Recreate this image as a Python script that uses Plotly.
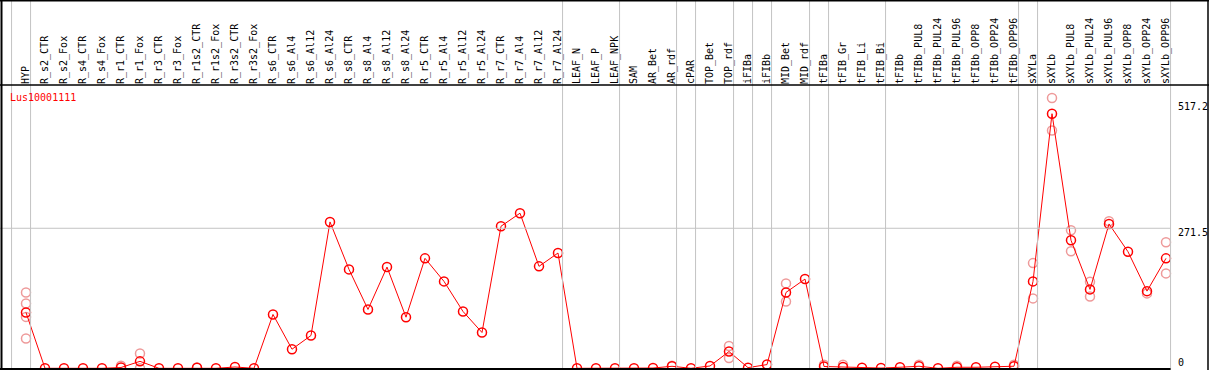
import plotly.graph_objects as go

categories = [
    "HYP", "R_s2_CTR", "R_s2_Fox", "R_s4_CTR", "R_s4_Fox", "R_r1_CTR", "R_r1_Fox",
    "R_r3_CTR", "R_r3_Fox", "R_r1s2_CTR", "R_r1s2_Fox", "R_r3s2_CTR", "R_r3s2_Fox",
    "R_s6_CTR", "R_s6_Al4", "R_s6_Al12", "R_s6_Al24", "R_s8_CTR", "R_s8_Al4",
    "R_s8_Al12", "R_s8_Al24", "R_r5_CTR", "R_r5_Al4", "R_r5_Al12", "R_r5_Al24",
    "R_r7_CTR", "R_r7_Al4", "R_r7_Al12", "R_r7_Al24", "LEAF_N", "LEAF_P", "LEAF_NPK",
    "SAM", "AR_Bet", "AR_rdf", "cPAR", "TOP_Bet", "TOP_rdf", "iFIBa", "iFIBb",
    "MID_Bet", "MID_rdf", "tFIBa", "tFIB_Gr", "tFIB_Li", "tFIB_Bi", "tFIBb",
    "tFIBb_PUL8", "tFIBb_PUL24", "tFIBb_PUL96", "tFIBb_OPP8", "tFIBb_OPP24",
    "tFIBb_OPP96", "sXYLa", "sXYLb", "sXYLb_PUL8", "sXYLb_PUL24", "sXYLb_PUL96",
    "sXYLb_OPP8", "sXYLb_OPP24", "sXYLb_OPP96",
]

mean_values = [
    108.3, 0, 0, 0, 0, 1.5, 13.5,
    0, 0, 1, 0, 2.5, 0,
    104.4, 37, 63.6, 283.8, 191.8, 114.1,
    196.3, 99.1, 213.2, 168.5, 110.2, 69.4,
    275.4, 300.7, 197.7, 223.5, 0, 0, 0,
    0, 0.5, 3.9, 0, 4.5, 32.5, 1.3, 7.2,
    147.1, 173, 3.5, 2.5, 1, 0.5, 2,
    4, 0, 2, 2, 3,
    4, 168.5, 493.6, 248.2, 153, 279.9,
    226, 149.6, 213.2,
]

rep_categories = [
    "HYP", "HYP", "HYP", "HYP", "R_r1_CTR", "R_r1_Fox", "R_r1_Fox", "R_r1s2_CTR",
    "AR_rdf", "TOP_rdf", "TOP_rdf", "MID_Bet", "MID_Bet", "tFIBa", "tFIB_Gr",
    "tFIBb_PUL8", "tFIBb_PUL96", "tFIBb_OPP96", "sXYLa", "sXYLa", "sXYLb", "sXYLb",
    "sXYLb_PUL8", "sXYLb_PUL8", "sXYLb_PUL24", "sXYLb_PUL24", "sXYLb_PUL96",
    "sXYLb_OPP24", "sXYLb_OPP96", "sXYLb_OPP96",
]
rep_values = [
    147.1, 125.7, 99.7, 57.7, 5, 28.6, 0, 1.5,
    5, 43.3, 20, 164.6, 129.6, 7, 7,
    7, 5, 7, 204, 135.5, 524.2, 461.2,
    267.6, 226.8, 167.7, 139.3, 285.1,
    145.2, 244.3, 184,
]

# groups end after these category indices (-1 = before first)
group_ends = [-1, 0, 28, 31, 34, 35, 37, 38, 39, 41, 42, 45, 52, 53, 60]
gridline_value = 271.5
axis_labels = [517.2, 271.5, 0]
gene = "Lus10001111"

W, H = 1209, 370
TOP = 85
FONT = "DejaVu Sans Mono"
RED = "#ff0000"
PINK = "#ee9a9a"
GRAY = "#c4c4c4"
X_RANGE = [-1.368, 62.263]

fig = go.Figure()
fig.add_trace(go.Scatter(
    x=rep_categories, y=rep_values, mode="markers",
    marker=dict(symbol="circle-open", size=9, color=PINK, line=dict(width=1.5, color=PINK)),
    hoverinfo="skip", showlegend=False,
))
fig.add_trace(go.Scatter(
    x=categories, y=mean_values, mode="lines+markers",
    line=dict(color=RED, width=1),
    marker=dict(symbol="circle-open", size=9, color=RED, line=dict(width=1.5, color=RED)),
    showlegend=False,
))

ytop_paper = 1 + TOP / (H - TOP)
shapes = []
for g in group_ends:
    shapes.append(dict(type="line", xref="x", yref="paper", x0=g + 0.24, x1=g + 0.24,
                       y0=0, y1=ytop_paper, line=dict(color=GRAY, width=1)))
right_edge = (len(categories) - 1 + 0.24 - X_RANGE[0]) / (X_RANGE[1] - X_RANGE[0])
shapes.append(dict(type="line", xref="paper", yref="y", x0=0, x1=right_edge,
                   y0=gridline_value, y1=gridline_value, line=dict(color=GRAY, width=1)))
# frame lines
shapes.append(dict(type="line", xref="paper", yref="paper", x0=0, x1=1,
                   y0=ytop_paper - 0.5 / (H - TOP), y1=ytop_paper - 0.5 / (H - TOP),
                   line=dict(color="black", width=2)))
shapes.append(dict(type="line", xref="paper", yref="paper", x0=0, x1=1,
                   y0=1, y1=1, line=dict(color="black", width=1.5)))
shapes.append(dict(type="line", xref="paper", yref="paper", x0=1.5 / W, x1=1.5 / W,
                   y0=0, y1=ytop_paper, line=dict(color="black", width=2)))
shapes.append(dict(type="line", xref="paper", yref="paper", x0=1 - 1.0 / W, x1=1 - 1.0 / W,
                   y0=0, y1=ytop_paper, line=dict(color="black", width=1.5)))
shapes.append(dict(type="line", xref="paper", yref="paper", x0=0, x1=right_edge,
                   y0=1.0 / (H - TOP), y1=1.0 / (H - TOP), line=dict(color="black", width=2)))

annotations = [dict(text=gene, xref="paper", yref="paper", x=8 / W, y=1 - 12 / (H - TOP),
                    xanchor="left", yanchor="middle", showarrow=False,
                    font=dict(family=FONT, size=10, color=RED))]
for v in axis_labels:
    annotations.append(dict(text=str(v) if v else "0", xref="paper", yref="y", x=1176 / W, y=v,
                            xanchor="left", yanchor="bottom" if v == 0 else "middle",
                            yshift=-2 if v == 0 else -4.5, showarrow=False,
                            font=dict(family=FONT, size=10, color="black")))

fig.update_layout(
    width=W, height=H, autosize=False,
    margin=dict(l=0, r=0, t=TOP, b=0, pad=0),
    paper_bgcolor="white", plot_bgcolor="white",
    shapes=shapes, annotations=annotations,
    xaxis=dict(type="category", categoryorder="array", categoryarray=categories,
               range=X_RANGE, side="top", tickangle=-90,
               tickmode="array", tickvals=categories, ticktext=categories,
               tickfont=dict(family=FONT, size=10, color="black"), ticks="",
               showgrid=False, zeroline=False, showline=False, automargin=False),
    yaxis=dict(range=[-3.3, 549.3], showticklabels=False, showgrid=False,
               zeroline=False, showline=False, automargin=False),
)

fig.write_html("out.html", config={"displayModeBar": False},
               post_script="document.body.style.margin='0';document.body.style.overflow='hidden';")
